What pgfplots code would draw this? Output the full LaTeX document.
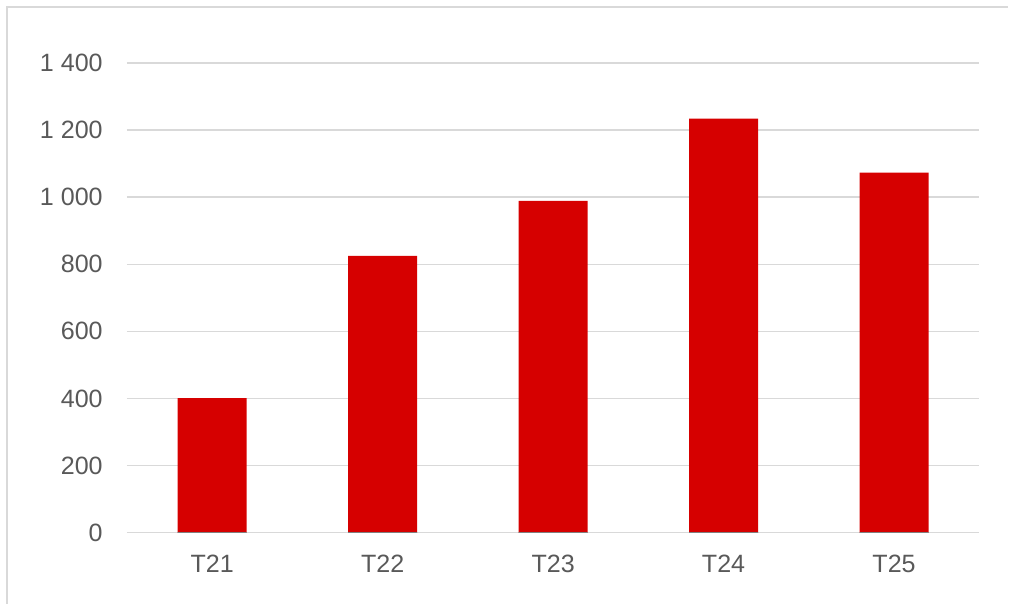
\documentclass[border=0pt]{standalone}
\usepackage{pgfplots}
\pgfplotsset{compat=1.18}
\usepackage{fontspec}
\setmainfont{Liberation Sans}
\definecolor{barred}{RGB}{214,0,0}
\definecolor{gridgray}{RGB}{217,217,217}
\definecolor{txtgray}{RGB}{89,89,89}
\begin{document}
\begin{tikzpicture}[x=1pt,y=1pt]
\path (0,0) rectangle (756.75,453);
\draw[gridgray, line width=1.1pt] (5.25,0) -- (5.25,447.75) -- (756.75,447.75);
\begin{axis}[
  at={(95.25pt,53.25pt)}, anchor=south west,
  scale only axis, width=639.75pt, height=352.5pt,
  xmin=-0.5, xmax=4.5, ymin=0, ymax=1400,
  xtick=data, xticklabels={T21,T22,T23,T24,T25},
  ytick={0,200,400,600,800,1000,1200,1400},
  ymajorgrids, grid style={gridgray, line width=1.1pt},
  axis line style={draw=none},
  major tick length=0pt,
  tick label style={font=\fontsize{18.8}{22}\selectfont, text=txtgray},
  /pgf/number format/assume math mode=true,
  /pgf/number format/1000 sep={\ },
  yticklabel style={anchor=east, inner sep=0pt, xshift=-18pt},
  xticklabel style={anchor=base, inner sep=0pt, yshift=-30pt},
  clip=false,
]
\addplot[ybar, bar width=51.75pt, bar shift=0pt, fill=barred, draw=none]
  coordinates {(0,401) (1,825) (2,989) (3,1234) (4,1073)};
\addplot[ybar, bar width=51.75pt, bar shift=0pt, fill=none, draw=gray, line width=0.8pt]
  coordinates {(0,0) (1,0) (2,0) (3,0) (4,0)};
\end{axis}
\end{tikzpicture}
\end{document}
